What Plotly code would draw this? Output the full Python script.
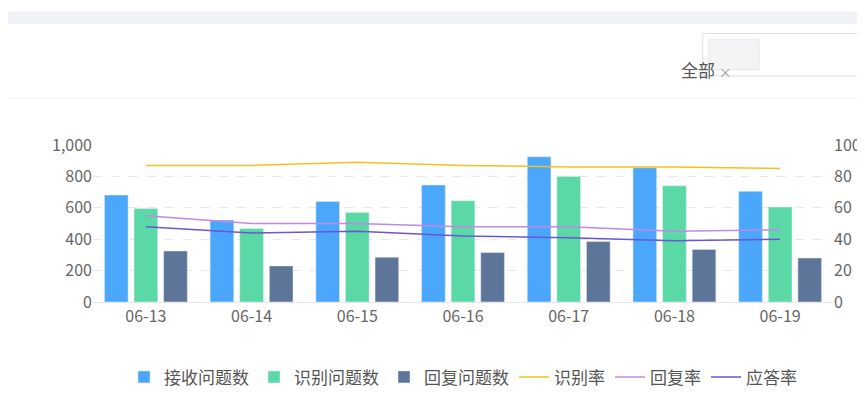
import plotly.graph_objects as go

dates = ["06-13", "06-14", "06-15", "06-16", "06-17", "06-18", "06-19"]
received = [681, 522, 640, 745, 925, 855, 705]
recognized = [595, 468, 570, 645, 800, 740, 605]
replied = [325, 230, 285, 315, 385, 335, 280]
recog_rate = [87, 87, 89, 87, 86, 86, 85]
reply_rate = [55, 50, 50, 48, 48, 45, 46]
answer_rate = [48, 44, 45, 42, 41, 39, 40]

fig = go.Figure()
fig.add_trace(go.Bar(x=dates, y=received, name="接收问题数", marker_color="#4ba7fb"))
fig.add_trace(go.Bar(x=dates, y=recognized, name="识别问题数", marker_color="#5ad8a6"))
fig.add_trace(go.Bar(x=dates, y=replied, name="回复问题数", marker_color="#5d7599"))
fig.add_trace(go.Scatter(x=dates, y=recog_rate, name="识别率", yaxis="y2", mode="lines",
                         line=dict(color="#f6c022", width=1.5)))
fig.add_trace(go.Scatter(x=dates, y=reply_rate, name="回复率", yaxis="y2", mode="lines",
                         line=dict(color="#c387e6", width=1.5)))
fig.add_trace(go.Scatter(x=dates, y=answer_rate, name="应答率", yaxis="y2", mode="lines",
                         line=dict(color="#6c55d6", width=1.5)))

font = "Noto Sans CJK SC"
fig.update_layout(
    width=865, height=418,
    margin=dict(l=85, r=40, t=137, b=124),
    paper_bgcolor="white", plot_bgcolor="white",
    font=dict(family=font, size=16, color="#666"),
    bargap=0.16, bargroupgap=0.2,
    showlegend=True,
    legend=dict(orientation="h", x=0.5, xanchor="center", y=-0.48, yanchor="middle",
                font=dict(size=17, color="#555"), itemwidth=30),
    xaxis=dict(showline=True, linecolor="#e6e6e6", ticks="", tickfont=dict(size=16, color="#666")),
    yaxis=dict(range=[0, 1000], dtick=200, tickformat=",", showgrid=True,
               gridcolor="#e8e8e8", griddash="dash", zeroline=False),
    yaxis2=dict(range=[0, 100], dtick=20, overlaying="y", side="right", showgrid=False,
                zeroline=False),
    shapes=[
        dict(type="rect", xref="paper", yref="paper", x0=-0.2, x1=1.2, y0=1.85, y1=1.77,
             fillcolor="#f0f2f5", line_width=0, layer="below"),
        dict(type="line", xref="paper", yref="paper", x0=-0.2, x1=1.2, y0=1.3, y1=1.3,
             line=dict(color="#eeeeee", width=1)),
        dict(type="rect", xref="paper", yref="paper", x0=0.824, x1=1.2, y0=1.71, y1=1.44,
             line=dict(color="#dcdfe6", width=1), fillcolor="white"),
        dict(type="rect", xref="paper", yref="paper", x0=0.832, x1=0.9, y0=1.67, y1=1.48,
             line=dict(color="#e4e7ed", width=1), fillcolor="#f4f4f5"),
    ],
    annotations=[
        dict(text="全部 <span style='color:#999;font-size:13px'>×</span>", xref="paper", yref="paper",
             x=0.866, y=1.575, showarrow=False, font=dict(size=17, color="#555")),
    ],
)
fig.write_html("out.html")
